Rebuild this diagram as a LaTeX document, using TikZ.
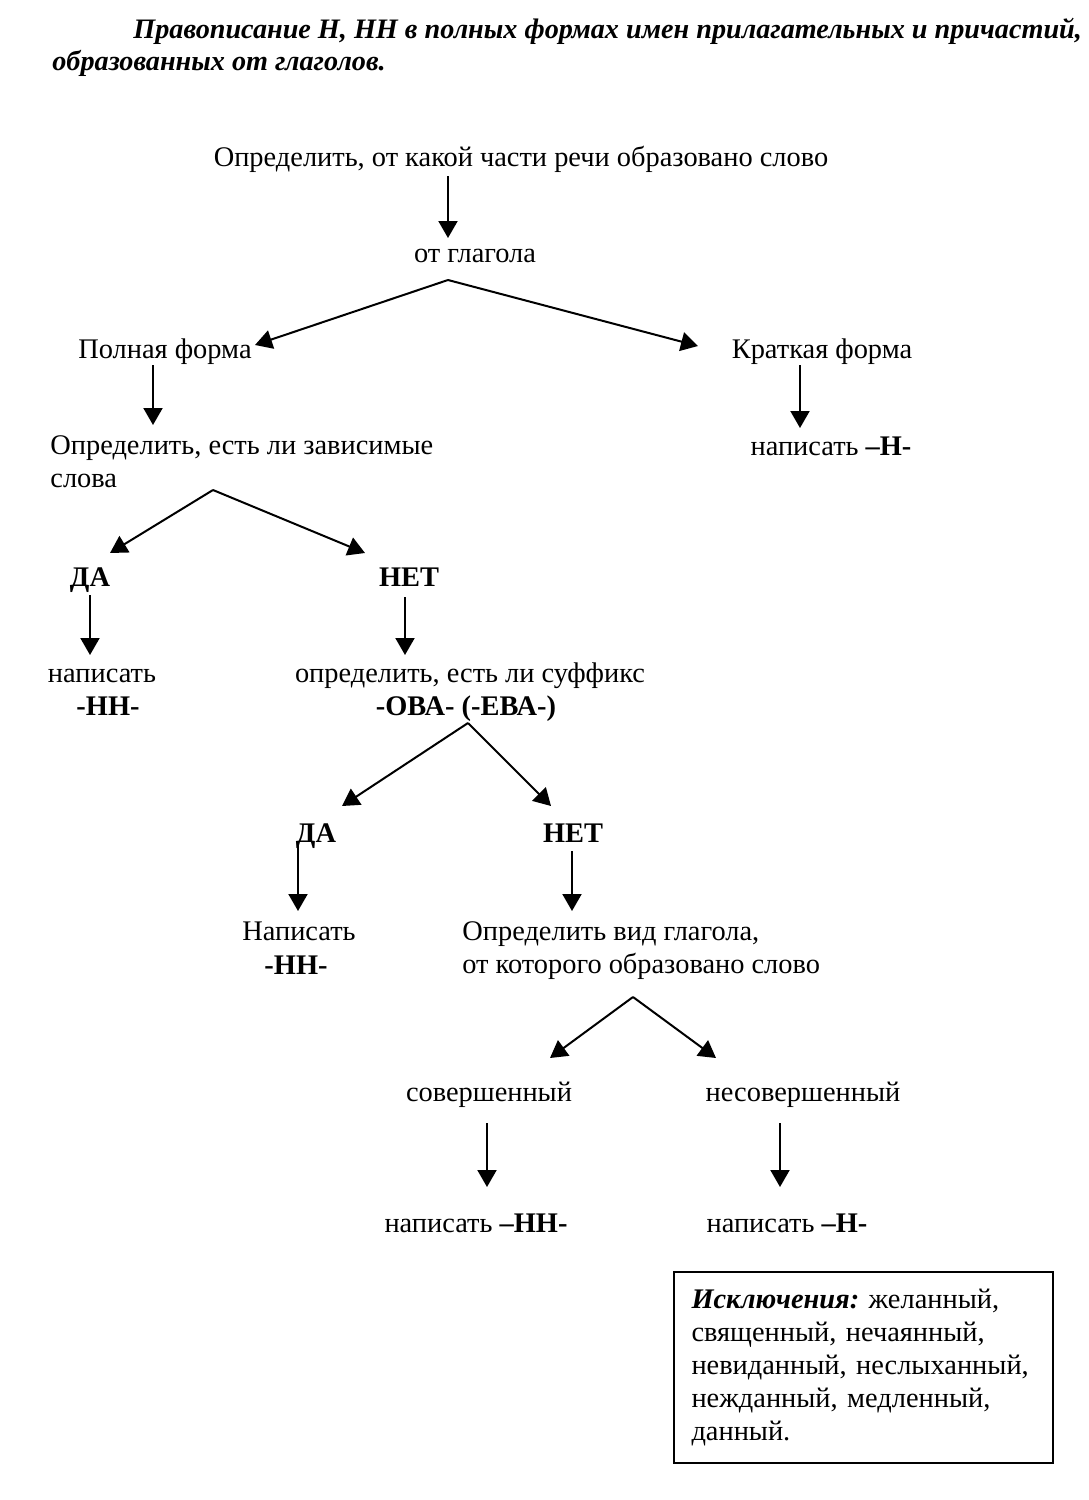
\documentclass[tikz,border=0pt]{standalone}
\usepackage{fontspec}
\setmainfont{Liberation Serif}
\usetikzlibrary{arrows.meta}
\frenchspacing
\begin{document}
\begin{tikzpicture}[x=0.5pt,y=-0.5pt,
  lbl/.style={inner sep=0pt, anchor=base, font=\fontsize{14.2}{16}\selectfont},
  lblw/.style={lbl, anchor=base west},
  ttl/.style={inner sep=0pt, anchor=base west, font=\bfseries\itshape\fontsize{14.1}{18}\selectfont},
  arr/.style={line width=1pt, -{Triangle[length=8.5pt,width=9.5pt]}},
  exbox/.style={draw, line width=0.8pt, inner xsep=8.75pt, inner ysep=0pt, text width=172pt, align=left,
    minimum width=189.5pt, minimum height=95.5pt, font=\fontsize{14.2}{16.4}\selectfont}]
\useasboundingbox (0,0) rectangle (1088,1500);
\fill[white] (0,0) rectangle (1088,1500);

% title
\node[ttl] (t1) at (133,38) {Правописание Н, НН в полных формах имен прилагательных и причастий,};
\node[ttl] (t2) at (52,70) {образованных от глаголов.};

% texts
\node[lbl] (q) at (521,166) {Определить, от какой части речи образовано слово};
\node[lbl] (g) at (475,262) {от глагола};
\node[lbl] (full) at (165,358) {Полная форма};
\node[lbl] (short) at (822,358) {Краткая форма};
\node[lblw] (dep1) at (50,454) {Определить, есть ли зависимые};
\node[lblw] (dep2) at (50,487) {слова};
\node[lbl] (wn1) at (831,455) {написать \textbf{–Н-}};
\node[lbl] (da1) at (90,586) {\textbf{ДА}};
\node[lbl] (net1) at (409,586) {\textbf{НЕТ}};
\node[lbl] (w2a) at (102,682) {написать};
\node[lbl] (w2b) at (108,715) {\textbf{-НН-}};
\node[lbl] (suf1) at (470,682) {определить, есть ли суффикс};
\node[lbl] (suf2) at (466,715) {\textbf{-ОВА- (-ЕВА-)}};
\node[lbl] (da2) at (316,842) {\textbf{ДА}};
\node[lbl] (net2) at (573,842) {\textbf{НЕТ}};
\node[lbl] (w3a) at (299,940) {Написать};
\node[lbl] (w3b) at (296,974) {\textbf{-НН-}};
\node[lblw] (vid1) at (462,940) {Определить вид глагола,};
\node[lblw] (vid2) at (462,973) {от которого образовано слово};
\node[lbl] (sov) at (489,1101) {совершенный};
\node[lbl] (nesov) at (803,1101) {несовершенный};
\node[lbl] (w4) at (476,1232) {написать \textbf{–НН-}};
\node[lbl] (w5) at (787,1232) {написать \textbf{–Н-}};

\node[exbox] (exc) at (863.5,1367.5) {\textbf{\textit{Исключения:}} желанный, священный, нечаянный, невиданный, неслыханный, нежданный, медленный, данный.};

% connector points
\coordinate (q-o) at (448,176);  \coordinate (g-i) at (448,238);
\coordinate (g-o) at (448,280);
\coordinate (full-i) at (255,345); \coordinate (short-i) at (698,346);
\coordinate (full-o) at (153,365); \coordinate (dep-i) at (153,425);
\coordinate (short-o) at (800,365); \coordinate (wn1-i) at (800,428);
\coordinate (dep-o) at (213,490);
\coordinate (da1-i) at (110,553); \coordinate (net1-i) at (365,553);
\coordinate (da1-o) at (90,595); \coordinate (w2-i) at (90,655);
\coordinate (net1-o) at (405,597); \coordinate (suf-i) at (405,655);
\coordinate (suf-o) at (468,723);
\coordinate (da2-i) at (342,806); \coordinate (net2-i) at (551,806);
\coordinate (da2-o) at (298,843); \coordinate (w3-i) at (298,911);
\coordinate (net2-o) at (572,851); \coordinate (vid-i) at (572,911);
\coordinate (vid-o) at (633,997);
\coordinate (sov-i) at (550,1058); \coordinate (nesov-i) at (716,1058);
\coordinate (sov-o) at (487,1123); \coordinate (w4-i) at (487,1187);
\coordinate (nesov-o) at (780,1123); \coordinate (w5-i) at (780,1187);

\draw[arr] (q-o) -- (g-i);
\draw[arr] (g-o) -- (full-i);
\draw[arr] (g-o) -- (short-i);
\draw[arr] (full-o) -- (dep-i);
\draw[arr] (short-o) -- (wn1-i);
\draw[arr] (dep-o) -- (da1-i);
\draw[arr] (dep-o) -- (net1-i);
\draw[arr] (da1-o) -- (w2-i);
\draw[arr] (net1-o) -- (suf-i);
\draw[arr] (suf-o) -- (da2-i);
\draw[arr] (suf-o) -- (net2-i);
\draw[arr] (da2-o) -- (w3-i);
\draw[arr] (net2-o) -- (vid-i);
\draw[arr] (vid-o) -- (sov-i);
\draw[arr] (vid-o) -- (nesov-i);
\draw[arr] (sov-o) -- (w4-i);
\draw[arr] (nesov-o) -- (w5-i);
\end{tikzpicture}
\end{document}
